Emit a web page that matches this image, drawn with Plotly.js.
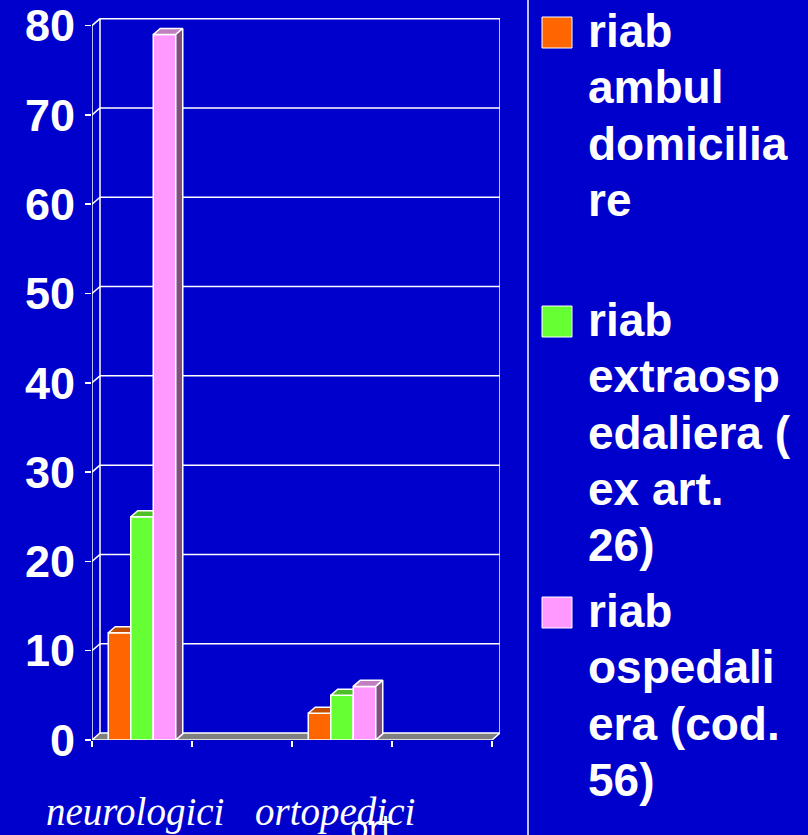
<!DOCTYPE html>
<html><head><meta charset="utf-8">
<script src="https://cdn.plot.ly/plotly-3.0.1.min.js"></script>
<style>html,body{margin:0;padding:0;background:#0000cc;}#chart{width:808px;height:835px;}</style>
</head><body><div id="chart"></div>
<script>
// ---- data ----
const categories = ["neurologici", "", "ortopedici", ""];
const seriesNames = ["riab ambul domiciliare", "riab extraospedaliera (ex art. 26)", "riab ospedaliera (cod. 56)"];
const legendLines = [
  ["riab", "ambul", "domicilia", "re"],
  ["riab", "extraosp", "edaliera (", "ex art.", "26)"],
  ["riab", "ospedali", "era (cod.", "56)"]
];
const ambul = [12, null, 3, null];
const extra = [25, null, 5, null];
const osped = [79, null, 6, null];
const yTicks = [0, 10, 20, 30, 40, 50, 60, 70, 80];
const strayLabel = "ort";

// ---- styles ----
const BG = "#0000cc";
const frontColors = ["#ff6600", "#66ff33", "#ff99ff"];
const topColors = ["#c04d00", "#4dc026", "#c07fc0"];
const sideColors = ["#803300", "#338019", "#7f4f7f"];
const W = 808, H = 835, L = 92, R = 308, T = 18, B = 95;
const plotW = W - L - R, plotH = H - T - B;
const yMax = 80.85;
const xRange = [-0.5, 3.58];
const wallDx = 0.08, wallDy = 0.78;
const barDx = 0.07, barDy = 0.68;
const barW = 0.225, groupStart = -0.3375;
const px2x = p => (p - L) / plotW;
const px2y = p => (H - B - p) / plotH;

const traces = [];
function poly(xs, ys, fill) {
  traces.push({type: "scatter", mode: "lines", x: xs.concat([xs[0]]), y: ys.concat([ys[0]]),
    fill: "toself", fillcolor: fill, line: {color: "white", width: 1.5}, hoverinfo: "skip", showlegend: false});
}
function line(xs, ys) {
  traces.push({type: "scatter", mode: "lines", x: xs, y: ys,
    line: {color: "white", width: 1.5}, hoverinfo: "skip", showlegend: false});
}
const x0 = -0.5, x1 = categories.length - 0.5;
const yTop = yTicks[yTicks.length - 1];
// floor
poly([x0, x0 + wallDx, x1 + wallDx, x1], [0, wallDy, wallDy, 0], "#808080");
// back wall gridlines and diagonals
yTicks.forEach(t => {
  if (t > 0) {
    line([x0 + wallDx, x1 + wallDx], [t + wallDy, t + wallDy]);
    line([x0, x0 + wallDx], [t, t + wallDy]);
  }
});
line([x0 + wallDx, x0 + wallDx], [wallDy, yTop + wallDy]);
line([x1 + wallDx, x1 + wallDx], [wallDy, yTop + wallDy]);
// front y axis
line([x0, x0], [0, yTop]);
// bars
const series = [ambul, extra, osped];
categories.forEach((c, ci) => {
  series.forEach((vals, si) => {
    const v = vals[ci];
    if (v === null || v === undefined) return;
    const xl = ci + groupStart + si * barW, xr = xl + barW;
    poly([xl, xr, xr, xl], [0, 0, v, v], frontColors[si]);
    poly([xl, xl + barDx, xr + barDx, xr], [v, v + barDy, v + barDy, v], topColors[si]);
    poly([xr, xr + barDx, xr + barDx, xr], [0, barDy, v + barDy, v], sideColors[si]);
  });
});

// legend (manual, to match large swatches)
const legendFirstBaselines = [48, 337, 628];
const lineStep = 56.3;
const legSize = 46;
const shapes = [{type: "line", xref: "paper", yref: "paper", x0: px2x(528), x1: px2x(528), y0: px2y(H), y1: px2y(0),
  line: {color: "white", width: 1.5}}];
const annotations = [];
legendLines.forEach((lines, i) => {
  const b0 = legendFirstBaselines[i];
  shapes.push({type: "rect", xref: "paper", yref: "paper", x0: px2x(542), x1: px2x(572), y0: px2y(b0), y1: px2y(b0 - 31),
    fillcolor: frontColors[i], line: {color: "white", width: 1}});
  lines.forEach((txt, li) => {
    const base = b0 + li * lineStep;
    annotations.push({xref: "paper", yref: "paper", x: px2x(586), y: px2y(base - 0.98 * legSize), xanchor: "left", yanchor: "top",
      align: "left", showarrow: false, text: txt,
      font: {family: "Liberation Sans, Arial, sans-serif", size: legSize, color: "white", weight: "bold"}});
  });
});
// category labels
categories.forEach((c, ci) => {
  if (!c) return;
  annotations.push({xref: "x", yref: "paper", x: ci, xshift: -7, xanchor: "center", y: px2y(836), yanchor: "bottom", showarrow: false,
    text: c, font: {family: "Liberation Serif, Times New Roman, serif", size: 39, color: "white", style: "italic"}});
});
annotations.push({xref: "paper", yref: "paper", x: px2x(371), xanchor: "center", y: px2y(806), yanchor: "top", showarrow: false,
  text: strayLabel, font: {family: "Liberation Sans Narrow, DejaVu Sans Condensed, Arial Narrow, sans-serif", size: 34, color: "white"}});

const layout = {
  width: W, height: H, margin: {l: L, r: R, t: T, b: B, pad: 0},
  paper_bgcolor: BG, plot_bgcolor: BG, showlegend: false,
  xaxis: {range: xRange, tickvals: [-0.5, 0.5, 1.5, 2.5, 3.5], ticks: "outside", ticklen: 6, tickwidth: 1.5,
    tickcolor: "white", showticklabels: false, showgrid: false, zeroline: false, showline: false, fixedrange: true},
  yaxis: {range: [0, yMax], tickvals: yTicks, ticks: "outside", ticklen: 6, tickwidth: 1.5, tickcolor: "white",
    showgrid: false, zeroline: false, showline: false, ticklabelstandoff: 1,
    tickfont: {family: "Liberation Sans, Arial, sans-serif", size: 45, color: "white", weight: "bold"}, fixedrange: true},
  shapes: shapes, annotations: annotations
};
Plotly.newPlot("chart", traces, layout, {staticPlot: true, displayModeBar: false});
</script></body></html>
